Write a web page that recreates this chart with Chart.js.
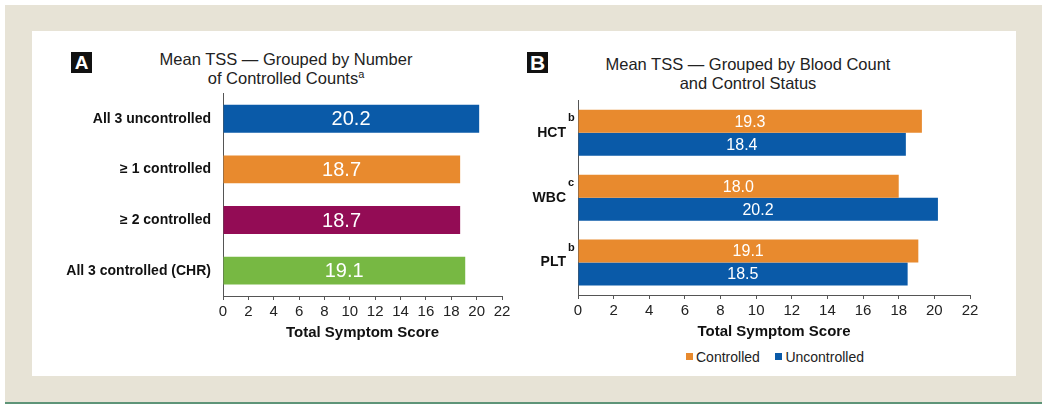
<!DOCTYPE html>
<html>
<head>
<meta charset="utf-8">
<script src="https://cdn.jsdelivr.net/npm/chart.js@4.4.0/dist/chart.umd.min.js"></script>
<style>
  body { margin: 0; background: #fff; font-family: "Liberation Sans", Arial, sans-serif; }
  #frame { position: absolute; left: 5px; top: 5px; width: 1037px; height: 397px; background: #e7e3d6; border-bottom: 2px solid #5e9478; }
  #panel { position: absolute; left: 32px; top: 31px; width: 984px; height: 345px; background: #fff; }
  .box { position: absolute; width: 17px; height: 17px; border: 2px solid #111; color: #fff; background: #111; font: bold 19px "Liberation Sans", Arial; line-height: 18px; text-align: center; }
  .title { position: absolute; text-align: center; font-size: 16.5px; color: #222; line-height: 19px; }
  .title sup { font-size: 11px; vertical-align: 6px; line-height: 0; }
  canvas { position: absolute; }
  #legend { position: absolute; left: 686px; top: 349px; font-size: 14px; color: #222; }
  #legend span.sq { display: inline-block; width: 7px; height: 7px; margin-right: 3px; vertical-align: 2px; }
</style>
</head>
<body>
<div id="frame"></div>
<div id="panel"></div>
<div class="box" style="left:71px;top:52px;">A</div>
<div class="title" style="left:136px;top:50px;width:300px;">Mean TSS — Grouped by Number<br>of Controlled Counts<sup>a</sup></div>
<div class="box" style="left:527px;top:52px;font-size:21px;">B</div>
<div class="title" style="left:598px;top:55px;width:300px;">Mean TSS — Grouped by Blood Count<br>and Control Status</div>
<div style="position:absolute;left:40px;top:73px;width:480px;height:273px;"><canvas id="chartA"></canvas></div>
<div style="position:absolute;left:526px;top:80px;width:464px;height:265px;"><canvas id="chartB"></canvas></div>
<div id="legend"><span class="sq" style="background:#e88a2e"></span>Controlled&nbsp;&nbsp;&nbsp;&nbsp;<span class="sq" style="background:#0a5aa8"></span>Uncontrolled</div>
<script>
// panel A
const groupsA = ['All 3 uncontrolled', '\u2265 1 controlled', '\u2265 2 controlled', 'All 3 controlled (CHR)'];
const tssA = [20.2, 18.7, 18.7, 19.1];
const colorsA = ['#0a5aa8', '#e88a2e', '#930c55', '#77b843'];

// panel B
const countsB = ['HCT', 'WBC', 'PLT'];
const footB = ['b', 'c', 'b'];
const controlled = [19.3, 18.0, 19.1];
const uncontrolled = [18.4, 20.2, 18.5];

const xTicks = [0, 2, 4, 6, 8, 10, 12, 14, 16, 18, 20, 22];

const barText = {
    id: 'barText',
    afterDatasetsDraw(chart, args, opts) {
        const ctx = chart.ctx;
        ctx.save();
        ctx.fillStyle = '#fff';
        ctx.font = opts.font;
        ctx.textAlign = 'center';
        ctx.textBaseline = 'middle';
        chart.data.datasets.forEach((ds, i) => {
            chart.getDatasetMeta(i).data.forEach((bar, j) => {
                const x0 = chart.scales.x.getPixelForValue(0);
                ctx.fillText(ds.data[j].toFixed(1), (x0 + bar.x) / 2, bar.y + 1);
            });
        });
        ctx.restore();
    }
};

const footnotes = {
    id: 'footnotes',
    afterDraw(chart, args, opts) {
        if (!opts.marks) return;
        const ctx = chart.ctx;
        const y = chart.scales.y;
        ctx.save();
        ctx.fillStyle = '#111';
        ctx.font = 'bold 11px "Liberation Sans", Arial';
        ctx.textAlign = 'left';
        opts.marks.forEach((m, i) => {
            ctx.fillText(m, y.right - 10, y.getPixelForTick(i) - 12);
        });
        ctx.restore();
    }
};

function xScale() {
    return {
        min: 0, max: 22,
        afterBuildTicks: s => { s.ticks = xTicks.map(v => ({ value: v })); },
        afterFit: s => { s.height = 50; },
        border: { display: true, color: '#555', width: 1 },
        grid: { drawOnChartArea: false, drawTicks: true, tickLength: 4, color: '#555' },
        ticks: { color: '#222', font: { size: 15, family: '"Liberation Sans", Arial' }, padding: 3, maxRotation: 0 },
        title: { display: true, text: 'Total Symptom Score', color: '#111', font: { size: 15, weight: 'bold', family: '"Liberation Sans", Arial' }, padding: { top: 3 } }
    };
}

function yScale(width, size) {
    return {
        afterFit: s => { s.width = width; },
        border: { display: true, color: '#555', width: 1 },
        grid: { display: false, drawTicks: false },
        ticks: { color: '#111', font: { size: size, weight: 'bold', family: '"Liberation Sans", Arial' }, padding: 12 }
    };
}

new Chart(document.getElementById('chartA'), {
    type: 'bar',
    data: {
        labels: groupsA,
        datasets: [{ data: tssA, backgroundColor: colorsA, barPercentage: 0.55, categoryPercentage: 1 }]
    },
    options: {
        indexAxis: 'y',
        responsive: true,
        maintainAspectRatio: false,
        animation: false,
        layout: { padding: { top: 8, right: 18, left: 0, bottom: 0 } },
        scales: { x: xScale(), y: yScale(183, 14) },
        plugins: {
            legend: { display: false },
            tooltip: { enabled: false },
            barText: { font: '20px "Liberation Sans", Arial' }
        }
    },
    plugins: [barText]
});

new Chart(document.getElementById('chartB'), {
    type: 'bar',
    data: {
        labels: countsB,
        datasets: [
            { label: 'Controlled', data: controlled, backgroundColor: '#e88a2e', barPercentage: 1, categoryPercentage: 0.71 },
            { label: 'Uncontrolled', data: uncontrolled, backgroundColor: '#0a5aa8', barPercentage: 1, categoryPercentage: 0.71 }
        ]
    },
    options: {
        indexAxis: 'y',
        responsive: true,
        maintainAspectRatio: false,
        animation: false,
        layout: { padding: { top: 8, right: 20, left: 0, bottom: 0 } },
        scales: { x: xScale(), y: yScale(52, 14) },
        plugins: {
            legend: { display: false },
            tooltip: { enabled: false },
            barText: { font: '16px "Liberation Sans", Arial' },
            footnotes: { marks: footB }
        }
    },
    plugins: [barText, footnotes]
});
</script>
</body>
</html>
